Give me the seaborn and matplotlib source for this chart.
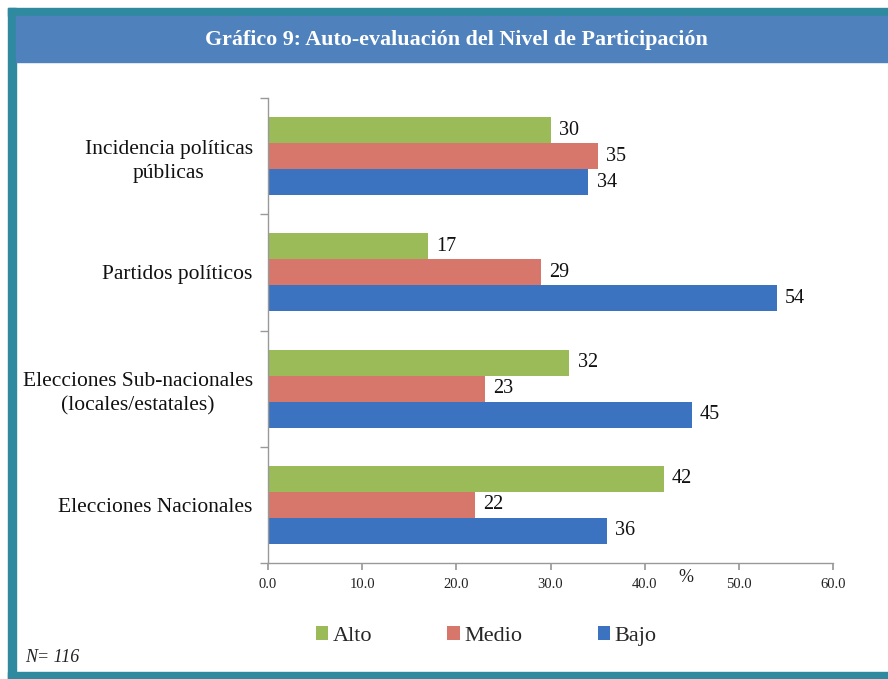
import pandas as pd
import matplotlib
matplotlib.use("Agg")
import matplotlib.pyplot as plt
from matplotlib.patches import Rectangle
import seaborn as sns


# Data
categorias = [
    "Incidencia políticas\npúblicas",
    "Partidos políticos",
    "Elecciones Sub-nacionales\n(locales/estatales)",
    "Elecciones Nacionales",
]
niveles = ["Alto", "Medio", "Bajo"]
alto = [30, 17, 32, 42]
medio = [35, 29, 23, 22]
bajo = [34, 54, 45, 36]
x_ticks = [0, 10, 20, 30, 40, 50, 60]

colores = ["#9bbb59", "#d7776c", "#3b73c0"]

# Long form table for seaborn
df = pd.DataFrame({
    "categoria": categorias * 3,
    "nivel": [n for n in niveles for _ in categorias],
    "valor": alto + medio + bajo,
})

sns.set_theme(style="white")
plt.rcParams["font.family"] = ["Liberation Serif", "DejaVu Serif"]

W, H = 888, 679
fig = plt.figure(figsize=(W / 100, H / 100), dpi=100)

# Frame and title band
teal = "#2f8aa0"
fig.patches.append(Rectangle((8 / W, 1 - 16 / H), 1, 8 / H, transform=fig.transFigure,
                             color=teal, zorder=0))
fig.patches.append(Rectangle((8 / W, 0), 8 / W, 1 - 8 / H, transform=fig.transFigure,
                             color=teal, zorder=0))
fig.patches.append(Rectangle((8 / W, 0), 1, 7 / H, transform=fig.transFigure,
                             color=teal, zorder=0))
fig.patches.append(Rectangle((16 / W, 1 - 62 / H), 1, 46 / H, transform=fig.transFigure,
                             color="#4f81bd", zorder=0))
fig.text(456 / W, 1 - 40 / H, "Gráfico 9: Auto-evaluación del Nivel de Participación",
         ha="center", va="center", color="white", fontsize=15.8, fontweight="bold")

ax = fig.add_axes([268 / W, 1 - 563 / H, (833 - 268) / W, (563 - 98) / H])

sns.barplot(data=df, y="categoria", x="valor", hue="nivel", orient="h",
            palette=colores, width=0.67, saturation=1, linewidth=0, ax=ax)

for cont in ax.containers:
    ax.bar_label(cont, fmt="%d", padding=6, fontsize=14.5, color="#111111")

ax.set_xlim(0, 60)
ax.set_ylim(3.5, -0.5)
ax.set_xticks(x_ticks)
ax.set_xticklabels([f"{v:.1f}" for v in x_ticks], fontsize=10.5, color="#222222")
ax.set_xlabel("")
ax.set_ylabel("")

# Category boundary ticks like the original
ax.set_yticks([-0.5, 0.5, 1.5, 2.5, 3.5], minor=True)
ax.tick_params(axis="y", which="major", length=0, pad=11, labelsize=15.5,
               labelcolor="#111111")
ax.tick_params(axis="y", which="minor", length=6, left=True, color="#999999")
ax.tick_params(axis="x", which="major", length=5, bottom=True, color="#999999", pad=6)
for lab in ax.get_yticklabels():
    lab.set_multialignment("center")
    lab.set_linespacing(1.35)

sns.despine(ax=ax, top=True, right=True)
for side in ["left", "bottom"]:
    ax.spines[side].set_color("#999999")
    ax.spines[side].set_linewidth(1)

fig.text(686 / W, 1 - 578 / H, "%", ha="center", va="center", fontsize=13, color="#222222")

handles, labels = ax.get_legend_handles_labels()
ax.get_legend().remove()
fig.legend(handles, labels, loc="center", bbox_to_anchor=(486 / W, 1 - 636 / H), ncol=3,
           frameon=False, fontsize=16, handlelength=0.55, handleheight=0.55,
           handletextpad=0.2, columnspacing=3.4)

fig.text(25 / W, 1 - 657 / H, "N= 116", ha="left", va="center", fontsize=13,
         fontstyle="italic", color="#222222")

fig.savefig("out.png", dpi=100)
